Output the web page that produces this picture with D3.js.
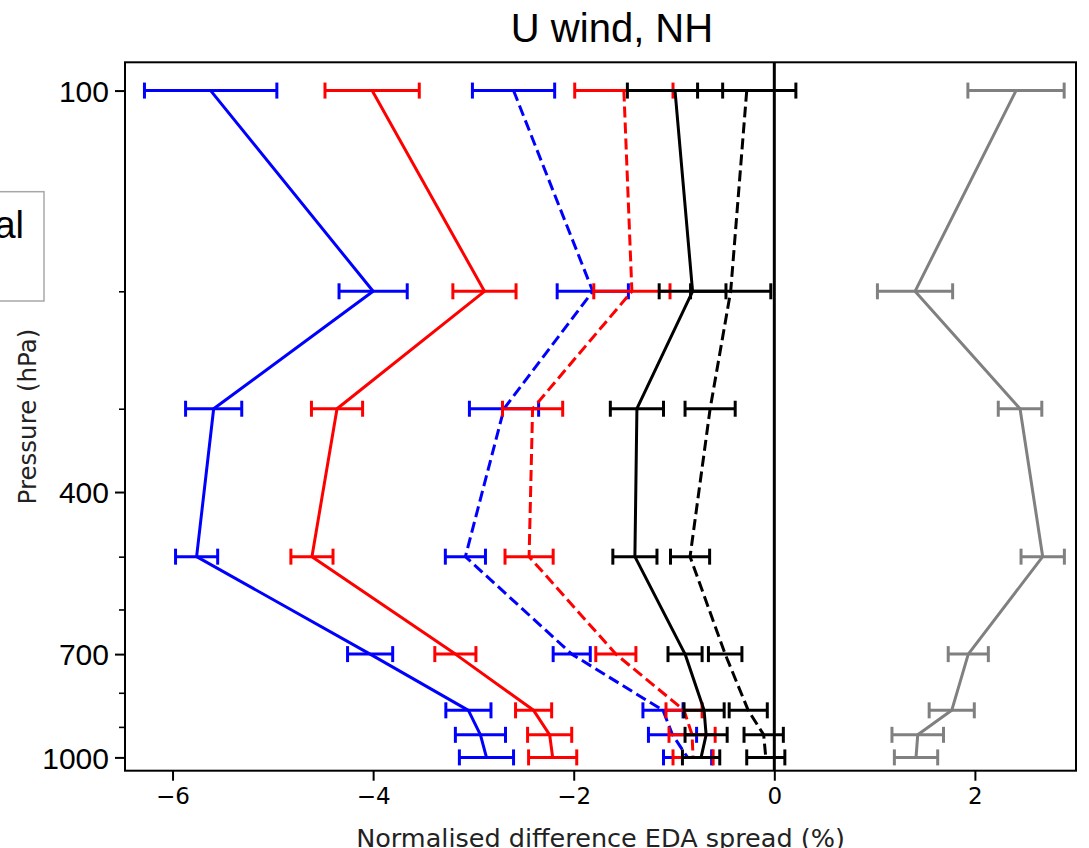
<!DOCTYPE html>
<html>
<head>
<meta charset="utf-8">
<script src="https://cdn.jsdelivr.net/npm/d3@7"></script>
<style>
  body { margin: 0; background: #fff; }
  svg { display: block; }
</style>
</head>
<body>
<svg id="chart" width="1089" height="848"></svg>
<script>
// Pressure levels (hPa)
const levels = [100, 200, 300, 500, 700, 850, 925, 1000];

// Normalised difference in EDA spread (%) and error half-widths per level
const blueSolid      = [-5.62, -4.00, -5.59, -5.76, -4.03, -3.05, -2.93, -2.87];
const blueSolidErr   = [0.66, 0.34, 0.28, 0.21, 0.225, 0.225, 0.25, 0.27];
const redSolid       = [-4.01, -2.89, -4.36, -4.61, -3.18, -2.40, -2.24, -2.21];
const redSolidErr    = [0.47, 0.315, 0.255, 0.21, 0.205, 0.18, 0.22, 0.24];
const blueDashed     = [-2.60, -1.81, -2.695, -3.08, -2.02, -1.11, -1.015, -0.865];
const blueDashedErr  = [0.41, 0.355, 0.345, 0.20, 0.185, 0.20, 0.24, 0.24];
const redDashed      = [-1.50, -1.42, -2.41, -2.445, -1.58, -0.90, -0.82, -0.81];
const redDashedErr   = [0.49, 0.38, 0.30, 0.24, 0.20, 0.18, 0.23, 0.20];
const blackSolid     = [-0.99, -0.815, -1.37, -1.39, -0.89, -0.70, -0.68, -0.73];
const blackSolidErr  = [0.475, 0.333, 0.265, 0.22, 0.17, 0.20, 0.21, 0.186];
const blackDashed    = [-0.275, -0.435, -0.64, -0.84, -0.49, -0.26, -0.106, -0.085];
const blackDashedErr = [0.49, 0.40, 0.25, 0.195, 0.167, 0.19, 0.196, 0.19];
const grey           = [2.41, 1.403, 2.45, 2.676, 1.934, 1.769, 1.43, 1.413];
const greyErr        = [0.48, 0.375, 0.217, 0.216, 0.20, 0.225, 0.257, 0.216];

// Axis ticks and labels
const xTicks = [-6, -4, -2, 0, 2];
const yMajorTicks = [100, 400, 700, 1000];
const yMinorTicks = [200, 300, 500, 600, 800, 900];
const xLimits = [-6.474, 3.008];
const yLimits = [90.7, 1047];
const titleText = "U wind, NH";
const xLabelText = "Normalised difference EDA spread (%)";
const yLabelText = "Pressure (hPa)";
const legendLabel = "Operational";

const series = [
  { values: blueSolid,   err: blueSolidErr,   color: "#0000ff", dash: null },
  { values: redSolid,    err: redSolidErr,    color: "#ff0000", dash: null },
  { values: blueDashed,  err: blueDashedErr,  color: "#0000ff", dash: "11,5" },
  { values: redDashed,   err: redDashedErr,   color: "#ff0000", dash: "11,5" },
  { values: blackSolid,  err: blackSolidErr,  color: "#000000", dash: null },
  { values: blackDashed, err: blackDashedErr, color: "#000000", dash: "11,5" },
  { values: grey,        err: greyErr,        color: "#808080", dash: null }
];

const plot = { left: 125, right: 1076, top: 62.3, bottom: 770.7 };
const svg = d3.select("#chart");

const x = d3.scaleLinear().domain(xLimits).range([plot.left, plot.right]);
const y = d3.scaleLog().domain(yLimits).range([plot.top, plot.bottom]);

const sans = "'Liberation Sans', Arial, sans-serif";
const deja = "'DejaVu Sans', sans-serif";

// Legend box (extends past the left edge of the figure)
const legend = svg.append("g");
legend.append("rect")
  .attr("x", -300).attr("y", 191.7).attr("width", 344).attr("height", 109.3)
  .attr("fill", "#fff").attr("stroke", "#a8a8a8").attr("stroke-width", 1.5);
legend.append("text")
  .attr("x", 24).attr("y", 237.5)
  .attr("text-anchor", "end")
  .attr("font-family", sans).attr("font-size", 38)
  .attr("fill", "#000")
  .text(legendLabel);

// Zero reference line
svg.append("line")
  .attr("x1", x(0)).attr("x2", x(0))
  .attr("y1", plot.top).attr("y2", plot.bottom)
  .attr("stroke", "#000").attr("stroke-width", 3);

// Profiles with horizontal error bars
const line = d3.line()
  .x(d => x(d.v))
  .y(d => y(d.p));

const cap = 8;
series.forEach(s => {
  const pts = levels.map((p, i) => ({ p, v: s.values[i], e: s.err[i] }));
  const g = svg.append("g");
  const bars = g.selectAll("g.bar").data(pts).enter().append("g")
    .attr("stroke", s.color).attr("stroke-width", 3).attr("fill", "none");
  bars.append("line")
    .attr("x1", d => x(d.v - d.e)).attr("x2", d => x(d.v + d.e))
    .attr("y1", d => y(d.p)).attr("y2", d => y(d.p));
  bars.append("line")
    .attr("x1", d => x(d.v - d.e)).attr("x2", d => x(d.v - d.e))
    .attr("y1", d => y(d.p) - cap).attr("y2", d => y(d.p) + cap);
  bars.append("line")
    .attr("x1", d => x(d.v + d.e)).attr("x2", d => x(d.v + d.e))
    .attr("y1", d => y(d.p) - cap).attr("y2", d => y(d.p) + cap);
  g.append("path")
    .datum(pts)
    .attr("d", line)
    .attr("fill", "none")
    .attr("stroke", s.color)
    .attr("stroke-width", 3)
    .attr("stroke-linejoin", "round")
    .attr("stroke-dasharray", s.dash);
});

// Frame
svg.append("rect")
  .attr("x", plot.left).attr("y", plot.top)
  .attr("width", plot.right - plot.left).attr("height", plot.bottom - plot.top)
  .attr("fill", "none").attr("stroke", "#000").attr("stroke-width", 2);

// Y axis: major ticks with labels, minor ticks without
const yAxis = svg.append("g")
  .attr("transform", `translate(${plot.left},0)`)
  .call(d3.axisLeft(y).tickValues(yMajorTicks).tickFormat(d3.format("d"))
    .tickSize(10).tickPadding(6));
yAxis.select(".domain").remove();
yAxis.selectAll(".tick line").attr("stroke", "#000").attr("stroke-width", 2);
yAxis.selectAll(".tick text")
  .attr("font-family", sans).attr("font-size", 30).attr("fill", "#000")
  .attr("dy", "0.36em");

const yMinor = svg.append("g")
  .attr("transform", `translate(${plot.left},0)`)
  .call(d3.axisLeft(y).tickValues(yMinorTicks).tickFormat("").tickSize(6));
yMinor.select(".domain").remove();
yMinor.selectAll(".tick line").attr("stroke", "#000").attr("stroke-width", 1.6);

// X axis
const xAxis = svg.append("g")
  .attr("transform", `translate(0,${plot.bottom})`)
  .call(d3.axisBottom(x).tickValues(xTicks)
    .tickFormat(d => d < 0 ? "\u2212" + Math.abs(d) : String(d))
    .tickSize(10).tickPadding(7));
xAxis.select(".domain").remove();
xAxis.selectAll(".tick line").attr("stroke", "#000").attr("stroke-width", 2);
xAxis.selectAll(".tick text")
  .attr("font-family", deja).attr("font-size", 23).attr("fill", "#000");

// Titles
svg.append("text")
  .attr("x", 612).attr("y", 41.7)
  .attr("text-anchor", "middle")
  .attr("font-family", sans).attr("font-size", 40).attr("fill", "#000")
  .text(titleText);

svg.append("text")
  .attr("x", (plot.left + plot.right) / 2).attr("y", 846.5)
  .attr("text-anchor", "middle")
  .attr("font-family", deja).attr("font-size", 25.5).attr("fill", "#222")
  .text(xLabelText);

svg.append("text")
  .attr("transform", `translate(36,${(plot.top + plot.bottom) / 2}) rotate(-90)`)
  .attr("text-anchor", "middle")
  .attr("font-family", deja).attr("font-size", 24.5).attr("fill", "#222")
  .text(yLabelText);
</script>
</body>
</html>
